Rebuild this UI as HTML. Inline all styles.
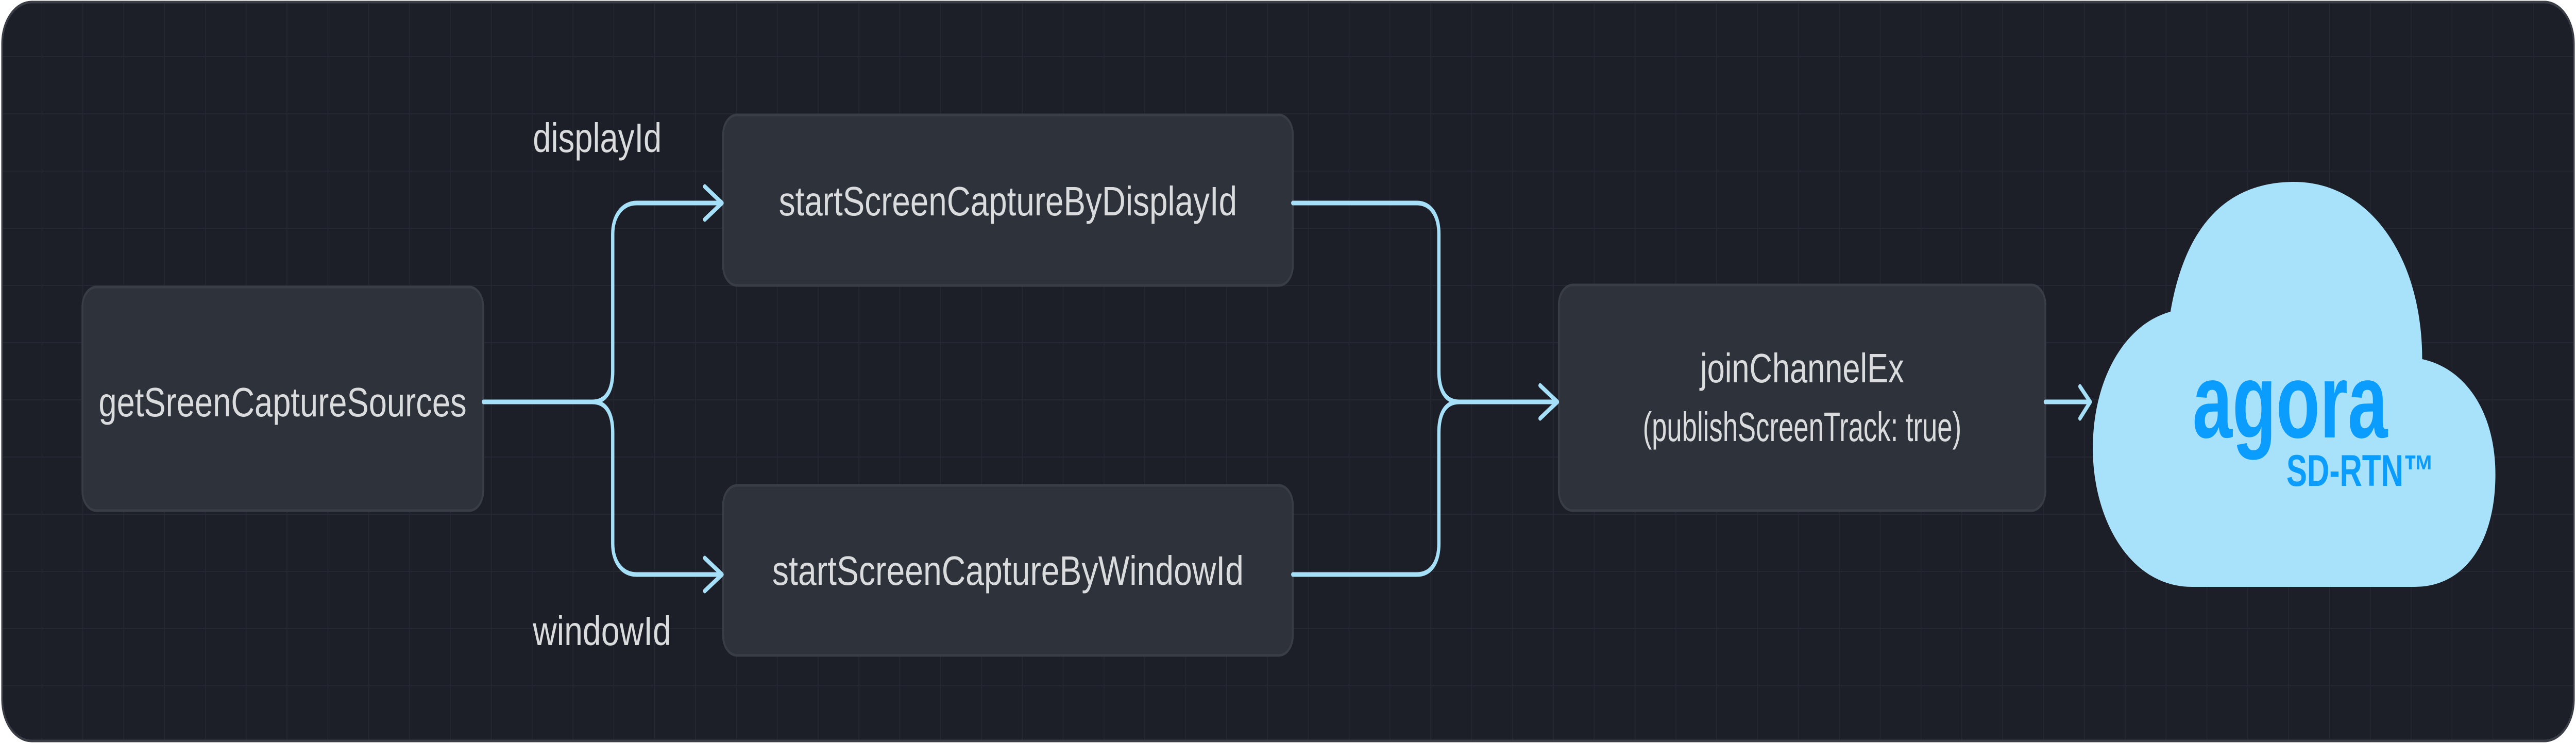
<!DOCTYPE html>
<html><head><meta charset="utf-8"><style>
html,body{margin:0;padding:0;background:#fff;width:100%;height:100%;overflow:hidden}
svg{display:block;width:100vw;height:100vh}
text{font-family:"Liberation Sans",sans-serif;fill:#dadbdd}
</style></head><body>
<svg viewBox="0 0 7000 1442" preserveAspectRatio="none" xmlns="http://www.w3.org/2000/svg">
<defs>
<pattern id="g" x="4" y="0" width="111" height="111" patternUnits="userSpaceOnUse">
<path d="M111 0V111M0 111H111" stroke="#252832" stroke-width="4" fill="none"/>
</pattern>
<clipPath id="c"><rect x="6" y="4" width="6988" height="1434" rx="80"/></clipPath>
</defs>
<rect x="6" y="4" width="6988" height="1434" rx="80" fill="#1c1f27"/>
<rect x="6" y="4" width="6988" height="1434" fill="url(#g)" clip-path="url(#c)"/>
<rect x="6" y="4" width="6988" height="1434" rx="80" fill="none" stroke="#3a3d45" stroke-width="5"/>

<g fill="#2e323b" stroke="#393d46" stroke-width="5">
<rect x="224" y="557" width="1089" height="434" rx="38"/>
<rect x="1965" y="223" width="1548" height="331" rx="38"/>
<rect x="1965" y="942" width="1548" height="330" rx="38"/>
<rect x="4236" y="553" width="1322" height="438" rx="38"/>
</g>

<g fill="none" stroke="#a6dff8" stroke-width="9" stroke-linecap="round" stroke-linejoin="round">
<path d="M1314 780H1610C1645 780 1665 760 1665 720V454C1665 420 1690 394 1730 394H1960"/>
<path d="M1314 780H1610C1645 780 1665 800 1665 840V1055C1665 1090 1690 1115 1730 1115H1960"/>
<path d="M1915 362L1962 394L1915 426M1915 1083L1962 1115L1915 1147"/>
<path d="M3513 394H3850C3890 394 3910 420 3910 454V720C3910 760 3930 780 3965 780H4232"/>
<path d="M3513 1115H3850C3890 1115 3910 1090 3910 1055V840C3910 800 3930 780 3965 780H4232"/>
<path d="M4185 748L4232 780L4185 812"/>
<path d="M5558 780H5680M5652 750L5680 780L5652 812"/>
</g>

<text x="768" y="808" font-size="80" text-anchor="middle" textLength="1000" lengthAdjust="spacingAndGlyphs">getSreenCaptureSources</text>
<text x="1448" y="295" font-size="80" textLength="350" lengthAdjust="spacingAndGlyphs">displayId</text>
<text x="1448" y="1252" font-size="80" textLength="376" lengthAdjust="spacingAndGlyphs">windowId</text>
<text x="2739" y="418" font-size="80" text-anchor="middle" textLength="1245" lengthAdjust="spacingAndGlyphs">startScreenCaptureByDisplayId</text>
<text x="2739" y="1135" font-size="80" text-anchor="middle" textLength="1281" lengthAdjust="spacingAndGlyphs">startScreenCaptureByWindowId</text>
<text x="4897" y="742" font-size="80" text-anchor="middle" textLength="554" lengthAdjust="spacingAndGlyphs">joinChannelEx</text>
<text x="4897" y="856" font-size="80" text-anchor="middle" textLength="866" lengthAdjust="spacingAndGlyphs">(publishScreenTrack: true)</text>

<path d="M5956,1139 C5790,1139 5687,1010 5687,870 C5687,740 5770,630 5898,605 C5940,430 6060,353 6234,353 C6440,353 6582,500 6582,697 C6700,715 6781,800 6781,921 C6781,1050 6700,1139 6561,1139 Z" fill="#a8e1fa"/>
<text x="5958" y="849" font-size="206" font-weight="bold" textLength="530" lengthAdjust="spacingAndGlyphs" style="fill:#0a9dfd">agora</text>
<text x="6213" y="943" font-size="86" font-weight="bold" textLength="402" lengthAdjust="spacingAndGlyphs" style="fill:#0a9dfd">SD-RTN™</text>
</svg>
</body></html>
